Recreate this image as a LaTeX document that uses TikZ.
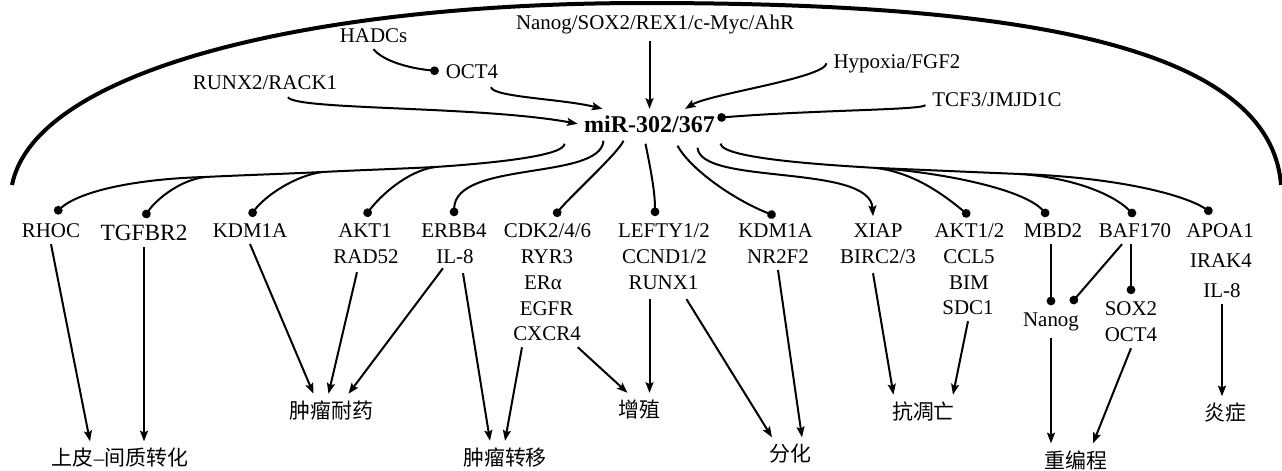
\documentclass[tikz,border=0pt]{standalone}
\usepackage{fontspec}
\setmainfont{Liberation Serif}
\newfontfamily\cjk{Noto Sans CJK SC}
\usetikzlibrary{calc,arrows.meta}

\tikzset{every picture/.style={line width=0.75pt}}
\tikzset{
  gene/.style={anchor=base,inner sep=0.75pt,outer sep=4.5pt,font=\fontsize{15.7}{18}\selectfont},
  effect/.style={anchor=center,inner sep=0.75pt,outer sep=4.5pt,font=\cjk\fontsize{15.7}{18}\selectfont},
  hub/.style={anchor=base,inner sep=4.5pt,font=\bfseries\fontsize{18}{20}\selectfont},
  act/.style={line width=1.5pt,-{Stealth[length=8pt,width=6pt,inset=1.5pt]}},
  inh/.style={line width=1.5pt,-{Circle[length=6.5pt]}},
}

\begin{document}
\begin{tikzpicture}[x=0.75pt,y=0.75pt,yscale=-1,xscale=1]
		\useasboundingbox (0,0) rectangle (1282,471); %set diagram to 1282 x 471
		
		%Curve Lines (outer arc)
		\draw [line width=3pt] (12,185) .. controls (35,70) and (310,3) .. (645,3) .. controls (1000,3) and (1270,40) .. (1281,185) ;
		
		% Text Node
		\node [hub] (mir) at (649.5,132) {miR-302/367};
		% Text Node
		\node [gene] (nanog) at (655,29) {Nanog/SOX2/REX1/c-Myc/AhR};
		% Text Node
		\node [gene] (hadcs) at (373.5,42) {HADCs};
		% Text Node
		\node [gene] (oct) at (472,78) {OCT4};
		% Text Node
		\node [gene] (runx) at (265,89) {RUNX2/RACK1};
		% Text Node
		\node [gene] (hyp) at (897,68) {Hypoxia/FGF2};
		% Text Node
		\node [gene] (tcf) at (997,106) {TCF3/JMJD1C};
		
		% Text Node
		\node [gene] (rhoc) at (51,237) {RHOC};
		% Text Node
		\node [gene,font=\fontsize{17.5}{20}\selectfont] (tgf) at (144,240) {TGFBR2};
		% Text Node
		\node [gene] (kdm) at (250,237) {KDM1A};
		% Text Node
		\node [gene] (akt) at (365,237) {AKT1};
		\node [gene] (rad) at (366,263) {RAD52};
		% Text Node
		\node [gene] (erbb) at (454,237) {ERBB4};
		\node [gene] (ila) at (455,263) {IL-8};
		% Text Node
		\node [gene] (cdk) at (547.5,237) {CDK2/4/6};
		\node [gene] (ryr) at (547,263) {RYR3};
		\node [gene] (er) at (543,289) {ERα};
		\node [gene] (egfr) at (546.5,315) {EGFR};
		\node [gene] (cxcr) at (547,340) {CXCR4};
		% Text Node
		\node [gene] (lefty) at (664,237) {LEFTY1/2};
		\node [gene] (ccnd) at (664.5,263) {CCND1/2};
		\node [gene] (runxa) at (663.5,289) {RUNX1};
		% Text Node
		\node [gene] (kdmr) at (775.5,237) {KDM1A};
		\node [gene] (nr) at (778,263) {NR2F2};
		% Text Node
		\node [gene] (xiap) at (878,237) {XIAP};
		\node [gene] (birc) at (878,263) {BIRC2/3};
		% Text Node
		\node [gene] (aktb) at (969.5,237) {AKT1/2};
		\node [gene] (ccl) at (969,263) {CCL5};
		\node [gene] (bim) at (969,289) {BIM};
		\node [gene] (sdc) at (968,314) {SDC1};
		% Text Node
		\node [gene] (mbd) at (1053,237) {MBD2};
		\node [gene] (nanogb) at (1051,326) {Nanog};
		% Text Node
		\node [gene] (baf) at (1135,237) {BAF170};
		\node [gene] (sox) at (1131,315) {SOX2};
		\node [gene] (octb) at (1131,341) {OCT4};
		% Text Node
		\node [gene] (apoa) at (1220,237) {APOA1};
		\node [gene] (irak) at (1221,267) {IRAK4};
		\node [gene] (ilb) at (1222,297) {IL-8};
		
		% Text Node
		\node [effect] (emt) at (120,458) {上皮{\rmfamily –}间质转化};
		% Text Node
		\node [effect] (resist) at (331.5,410.5) {肿瘤耐药};
		% Text Node
		\node [effect] (meta) at (505,457.5) {肿瘤转移};
		% Text Node
		\node [effect] (prolif) at (639.5,409.5) {增殖};
		% Text Node
		\node [effect] (diff) at (790,454) {分化};
		% Text Node
		\node [effect] (anti) at (923.5,411.5) {抗凋亡};
		% Text Node
		\node [effect] (reprog) at (1076,460) {重编程};
		% Text Node
		\node [effect] (inflam) at (1225.5,413) {炎症};
		
		%Curve Lines (upstream)
		\draw [act] ($(runx.south)+(23,1)$) .. controls +(7,13) and +(-98,-18) .. (mir.west) ;
		%Curve Lines
		\draw [inh] (hadcs.south) .. controls +(10,12) and +(-30,-3) .. (oct.west) ;
		%Curve Lines
		\draw [act] ($(oct.south)+(19,2)$) .. controls +(2,10) and +(-40,-10) .. ($(mir.north)+(-47,0)$) ;
		%Straight Lines
		\draw [act] (nanog.south -| mir.north) -- (mir.north) ;
		%Curve Lines
		\draw [act] (hyp.west) .. controls +(-3,15) and +(25,-15) .. ($(mir.north)+(35.5,0)$) ;
		%Curve Lines
		\draw [inh] ($(tcf.west)+(0,6)$) .. controls +(-5,5) and +(100,-8) .. ($(mir.east)+(-4,-6)$) ;
		
		%Curve Lines (left bundle)
		\coordinate (jl1) at (205,177);
		\coordinate (jl2) at (322,172);
		\coordinate (jl3) at (435,167);
		\draw [inh] ($(mir.south)+(-85,5)$) .. controls +(0,12) and +(60,-4) .. (jl3) .. controls +(-40,2) and +(40,-2) .. (jl2) .. controls +(-40,2) and +(40,-2) .. (jl1) .. controls +(-70,2) and +(25,-22) .. ($(rhoc.north)+(4,-3)$) ;
		\draw [inh] (jl1) .. controls +(-25,3) and +(12,-18) .. (tgf.north) ;
		\draw [inh] (jl2) .. controls +(-28,4) and +(15,-20) .. (kdm.north) ;
		\draw [inh] (jl3) .. controls +(-28,4) and +(15,-20) .. (akt.north) ;
		%Curve Lines
		\draw [inh] ($(mir.south)+(-46,2)$) .. controls +(-3,40) and +(1,-56) .. (erbb.north) ;
		%Curve Lines
		\draw [inh] ($(mir.south)+(-26,2)$) .. controls +(-5,12) and +(14,-18) .. ($(cdk.north)+(7,0)$) ;
		%Curve Lines
		\draw [inh] ($(mir.south)+(-4,5)$) .. controls +(5,25) and +(0,-25) .. ($(lefty.north)+(-9,0)$) ;
		%Curve Lines
		\draw [inh] ($(mir.south)+(28,7)$) .. controls +(12,22) and +(-45,-18) .. (kdmr.north) ;
		%Curve Lines
		\draw [act] ($(mir.south)+(48,9)$) .. controls +(3,38) and +(-3,-53) .. ($(xiap.north)+(-5,0)$) ;
		
		%Curve Lines (right bundle)
		\coordinate (jr1) at (877,168);
		\coordinate (jr2) at (1020,174);
		\draw [inh] ($(mir.south)+(71,5)$) .. controls +(2,15) and +(-50,-3) .. (jr1) .. controls +(50,2) and +(-50,-2) .. (jr2) .. controls +(90,3) and +(-30,-20) .. ($(apoa.north)+(-8,-3)$) ;
		\draw [inh] (jr1) .. controls +(35,5) and +(-30,-25) .. (aktb.north) ;
		\draw [inh] (jr1) .. controls +(60,4) and +(-25,-28) .. ($(mbd.north)+(-5,0)$) ;
		\draw [inh] (jr2) .. controls +(45,3) and +(-25,-25) .. (baf.north) ;
		
		%Straight Lines (to effects)
		\draw [act] (rhoc.south) -- ($(emt.north)+(-30,0)$) ;
		\draw [act] (tgf.south) -- (tgf.south |- emt.north) ;
		%Straight Lines
		\draw [act] (kdm.south) -- ($(resist.north)+(-18,0)$) ;
		\draw [act] ($(rad.south)+(-9,2)$) -- ($(resist.north)+(-3,0)$) ;
		\draw [act] ($(ila.south)+(-12,-2)$) -- ($(resist.north)+(17,0)$) ;
		%Straight Lines
		\draw [act] ($(ila.south)+(8,3)$) -- ($(meta.north)+(-15,0)$) ;
		\draw [act] ($(cxcr.south)+(-25,0)$) -- (meta.north) ;
		%Straight Lines
		\draw [act] ($(cxcr.south east)+(-10,0)$) -- ($(prolif.north)+(-12,0)$) ;
		\draw [act] ($(runxa.south)+(-14,3)$) -- ($(prolif.north)+(10,0)$) ;
		%Straight Lines
		\draw [act] ($(runxa.south)+(23,3)$) -- ($(diff.north)+(-18,0)$) ;
		\draw [act] (nr.south) -- ($(diff.north)+(12,0)$) ;
		%Straight Lines
		\draw [act] ($(birc.south)+(-5,3)$) -- ($(anti.north)+(-30,0)$) ;
		\draw [act] (sdc.south) -- ($(anti.north)+(29.5,0)$) ;
		%Straight Lines
		\draw [inh] (nanogb.north |- mbd.south) -- (nanogb.north) ;
		\draw [inh] ($(baf.south)+(-13,0)$) -- ($(nanogb.north)+(20,-2)$) ;
		\draw [inh] (sox.north |- baf.south) -- (sox.north) ;
		%Straight Lines
		\draw [act] (nanogb.south) -- (nanogb.south |- reprog.north) ;
		\draw [act] (octb.south) -- ($(reprog.north)+(17,0)$) ;
		%Straight Lines
		\draw [act] (ilb.south) -- (ilb.south |- inflam.north) ;
		
\end{tikzpicture}
\end{document}
